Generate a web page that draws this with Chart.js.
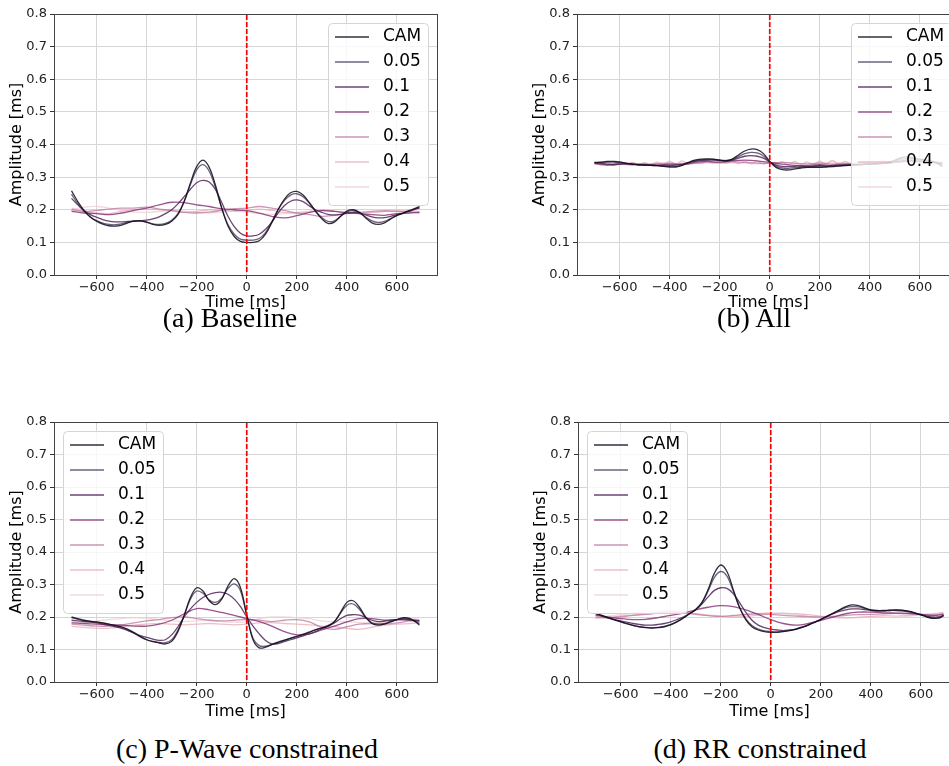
<!DOCTYPE html>
<html>
<head>
<meta charset="utf-8">
<script src="https://cdn.jsdelivr.net/npm/chart.js@4.4.0/dist/chart.umd.min.js"></script>
<style>
body{margin:0;width:949px;height:766px;overflow:hidden;background:#fff;position:relative}
canvas{position:absolute}
.cap{position:absolute;font-family:"Liberation Serif",serif;font-size:28px;color:#000;white-space:nowrap;transform:translate(-50%,-50%)}
</style>
</head>
<body>
<canvas id="pa" width="445" height="311" style="left:0px;top:0px"></canvas>
<canvas id="pb" width="445" height="311" style="left:523px;top:0px"></canvas>
<canvas id="pc" width="445" height="312" style="left:0px;top:408px"></canvas>
<canvas id="pd" width="445" height="312" style="left:524px;top:408px"></canvas>
<div class="cap" style="left:230px;top:318px">(a) Baseline</div>
<div class="cap" style="left:754px;top:318px">(b) All</div>
<div class="cap" style="left:247px;top:749px">(c) P-Wave constrained</div>
<div class="cap" style="left:760px;top:749px">(d) RR constrained</div>
<script>
// time grids (ms)
const tFine = [-700,-675,-650,-625,-600,-575,-550,-525,-500,-475,
  -450,-425,-400,-375,-350,-325,-300,-275,-250,-225,
  -200,-175,-150,-125,-100,-75,-50,-25,0,25,
  50,75,100,125,150,175,200,225,250,275,
  300,325,350,375,400,425,450,475,500,525,
  550,575,600,625,650,675,690];
const tCoarse = [-700,-650,-600,-550,-500,-450,-400,-350,-300,-250,
  -200,-150,-100,-50,0,50,100,150,200,250,
  300,350,400,450,500,550,600,650,690];

const labels = ['CAM','0.05','0.1','0.2','0.3','0.4','0.5'];
const colors = ['rgba(15,10,25,0.85)','rgba(60,45,80,0.75)','rgba(80,35,90,0.85)',
  'rgba(135,55,120,0.85)','rgba(190,125,165,0.8)','rgba(228,172,182,0.75)','rgba(238,205,205,0.75)'];

// (a) Baseline
const baseCam = [0.258,0.225,0.198,0.178,0.165,0.156,0.151,0.150,0.153,0.160,
  0.165,0.166,0.162,0.155,0.152,0.155,0.165,0.185,0.225,0.282,
  0.332,0.352,0.330,0.275,0.205,0.150,0.118,0.103,0.100,0.100,
  0.105,0.125,0.160,0.200,0.232,0.252,0.256,0.245,0.222,0.195,
  0.172,0.158,0.162,0.180,0.196,0.200,0.192,0.175,0.160,0.155,
  0.160,0.172,0.183,0.190,0.198,0.205,0.210];
const base005 = [0.248,0.218,0.195,0.178,0.167,0.159,0.155,0.154,0.157,0.162,
  0.166,0.166,0.162,0.157,0.155,0.158,0.168,0.188,0.225,0.277,
  0.322,0.338,0.318,0.268,0.205,0.155,0.125,0.110,0.107,0.107,
  0.112,0.130,0.163,0.200,0.228,0.245,0.249,0.240,0.220,0.196,
  0.176,0.164,0.166,0.180,0.193,0.197,0.191,0.178,0.166,0.161,
  0.164,0.173,0.182,0.189,0.196,0.203,0.207];
const base01 = [0.235,0.215,0.198,0.185,0.177,0.170,0.165,0.163,0.163,0.164,
  0.165,0.166,0.168,0.172,0.178,0.188,0.200,0.218,0.240,0.263,
  0.283,0.290,0.285,0.262,0.222,0.180,0.148,0.128,0.120,0.120,
  0.125,0.140,0.162,0.190,0.212,0.226,0.230,0.225,0.212,0.200,
  0.192,0.186,0.184,0.186,0.190,0.192,0.190,0.184,0.178,0.175,
  0.176,0.180,0.185,0.190,0.196,0.202,0.205];
const base02 = [0.195,0.190,0.188,0.185,0.190,0.198,0.205,0.215,0.223,0.222,
  0.215,0.210,0.203,0.200,0.197,0.190,0.180,0.175,0.182,0.192,
  0.198,0.195,0.190,0.188,0.185,0.183,0.188,0.190,0.192];
const base03 = [0.200,0.195,0.198,0.202,0.205,0.205,0.208,0.202,0.198,0.192,
  0.190,0.193,0.198,0.203,0.205,0.210,0.205,0.198,0.190,0.185,
  0.180,0.183,0.188,0.192,0.195,0.197,0.195,0.193,0.190];
const base04 = [0.205,0.195,0.190,0.188,0.195,0.200,0.202,0.200,0.196,0.192,
  0.195,0.200,0.198,0.196,0.198,0.202,0.198,0.192,0.190,0.193,
  0.196,0.195,0.192,0.190,0.192,0.195,0.197,0.196,0.195];
const base05 = [0.200,0.208,0.210,0.205,0.198,0.193,0.192,0.195,0.198,0.196,
  0.192,0.190,0.193,0.196,0.193,0.188,0.186,0.188,0.192,0.196,
  0.198,0.196,0.193,0.190,0.192,0.194,0.195,0.194,0.193];

// (b) All
const allCam = [0.345,0.346,0.348,0.348,0.347,0.343,0.340,0.338,0.337,0.336,
  0.335,0.333,0.331,0.331,0.336,0.345,0.352,0.355,0.356,0.355,
  0.352,0.350,0.355,0.368,0.380,0.386,0.384,0.372,0.348,0.330,
  0.323,0.322,0.325,0.328,0.330,0.330,0.330,0.331,0.332,0.334,
  0.335,0.337,0.338,0.339,0.340,0.341,0.342,0.345,0.352,0.360,
  0.362,0.358,0.355,0.352,0.348,0.340,0.332];
const all005 = [0.344,0.345,0.346,0.346,0.345,0.342,0.340,0.338,0.337,0.336,
  0.335,0.334,0.333,0.333,0.337,0.344,0.350,0.353,0.354,0.354,
  0.352,0.351,0.354,0.363,0.372,0.376,0.374,0.365,0.346,0.333,
  0.328,0.327,0.329,0.331,0.332,0.332,0.332,0.333,0.334,0.335,
  0.336,0.337,0.338,0.339,0.340,0.341,0.342,0.344,0.349,0.355,
  0.357,0.355,0.352,0.350,0.347,0.341,0.336];
const all01 = [0.343,0.342,0.340,0.338,0.340,0.342,0.340,0.338,0.337,0.337,
  0.336,0.336,0.336,0.337,0.340,0.344,0.348,0.351,0.352,0.352,
  0.351,0.350,0.352,0.358,0.364,0.366,0.364,0.358,0.346,0.337,
  0.333,0.332,0.333,0.334,0.332,0.334,0.336,0.334,0.336,0.337,
  0.337,0.338,0.339,0.339,0.340,0.341,0.342,0.343,0.346,0.350,
  0.352,0.351,0.349,0.348,0.346,0.343,0.340];
const all02 = [0.342,0.338,0.341,0.338,0.340,0.337,0.340,0.338,0.345,0.348,
  0.346,0.350,0.352,0.350,0.345,0.340,0.336,0.335,0.338,0.336,
  0.339,0.338,0.340,0.342,0.345,0.348,0.347,0.345,0.343];
const all03 = [0.341,0.336,0.339,0.342,0.338,0.341,0.343,0.340,0.342,0.346,
  0.344,0.347,0.345,0.343,0.342,0.345,0.342,0.340,0.343,0.340,
  0.342,0.341,0.343,0.344,0.346,0.349,0.348,0.346,0.344];
const all04 = [0.344,0.338,0.345,0.337,0.344,0.338,0.345,0.339,0.344,0.338,
  0.346,0.339,0.349,0.340,0.350,0.341,0.349,0.342,0.350,0.343,
  0.351,0.342,0.350,0.341,0.349,0.341,0.348,0.340,0.346,0.339,
  0.347,0.338,0.348,0.339,0.347,0.338,0.349,0.340,0.351,0.340,
  0.348,0.341,0.347,0.342,0.348,0.343,0.349,0.344,0.350,0.345,
  0.351,0.345,0.350,0.344,0.349,0.343,0.346];
const all05 = [0.345,0.343,0.341,0.343,0.340,0.342,0.341,0.343,0.345,0.343,
  0.342,0.344,0.343,0.341,0.344,0.346,0.343,0.341,0.344,0.346,
  0.343,0.342,0.344,0.346,0.348,0.350,0.349,0.347,0.345];

// (c) P-Wave constrained
const pwCam = [0.200,0.195,0.190,0.187,0.185,0.182,0.178,0.174,0.170,0.162,
  0.152,0.140,0.130,0.124,0.120,0.117,0.125,0.155,0.205,0.260,
  0.290,0.280,0.250,0.238,0.255,0.295,0.318,0.290,0.205,0.130,
  0.105,0.107,0.115,0.122,0.128,0.134,0.140,0.146,0.153,0.160,
  0.166,0.172,0.185,0.215,0.245,0.250,0.230,0.200,0.180,0.175,
  0.178,0.185,0.192,0.198,0.196,0.185,0.175];
const pw005 = [0.198,0.193,0.189,0.186,0.184,0.181,0.177,0.173,0.168,0.160,
  0.150,0.139,0.130,0.125,0.122,0.121,0.130,0.160,0.205,0.255,
  0.280,0.273,0.252,0.245,0.258,0.288,0.302,0.280,0.205,0.135,
  0.112,0.110,0.116,0.123,0.129,0.135,0.141,0.147,0.154,0.161,
  0.167,0.174,0.186,0.212,0.236,0.240,0.224,0.198,0.182,0.178,
  0.180,0.186,0.192,0.196,0.194,0.186,0.180];
const pw01 = [0.190,0.188,0.186,0.184,0.182,0.178,0.174,0.170,0.165,0.158,
  0.150,0.143,0.137,0.132,0.128,0.130,0.145,0.170,0.200,0.225,
  0.245,0.260,0.270,0.275,0.276,0.270,0.255,0.232,0.200,0.172,
  0.148,0.128,0.117,0.118,0.124,0.130,0.136,0.142,0.148,0.155,
  0.163,0.172,0.182,0.195,0.205,0.207,0.206,0.198,0.190,0.186,
  0.187,0.190,0.192,0.193,0.192,0.190,0.188];
const pw02 = [0.182,0.180,0.178,0.176,0.175,0.172,0.172,0.178,0.190,0.210,
  0.226,0.222,0.214,0.205,0.195,0.186,0.172,0.155,0.145,0.148,
  0.160,0.172,0.185,0.195,0.195,0.190,0.192,0.190,0.187];
const pw03 = [0.178,0.175,0.172,0.172,0.176,0.182,0.188,0.192,0.198,0.200,
  0.195,0.190,0.188,0.190,0.192,0.190,0.186,0.190,0.192,0.185,
  0.168,0.162,0.170,0.178,0.180,0.178,0.182,0.188,0.192];
const pw04 = [0.172,0.168,0.165,0.166,0.170,0.175,0.178,0.180,0.178,0.176,
  0.178,0.180,0.178,0.176,0.178,0.182,0.183,0.180,0.178,0.176,
  0.172,0.170,0.165,0.162,0.168,0.175,0.178,0.180,0.182];
const pw05 = [0.185,0.182,0.188,0.192,0.195,0.198,0.196,0.192,0.188,0.186,
  0.188,0.190,0.186,0.184,0.185,0.195,0.200,0.200,0.198,0.195,
  0.188,0.185,0.186,0.183,0.182,0.186,0.192,0.196,0.198];

// (d) RR constrained
const rrCam = [0.212,0.205,0.198,0.192,0.186,0.180,0.174,0.170,0.167,0.166,
  0.167,0.170,0.176,0.185,0.196,0.210,0.223,0.245,0.285,0.335,
  0.360,0.340,0.285,0.230,0.192,0.170,0.160,0.155,0.153,0.153,
  0.155,0.158,0.162,0.168,0.175,0.183,0.192,0.202,0.212,0.222,
  0.232,0.237,0.235,0.228,0.222,0.220,0.220,0.221,0.222,0.221,
  0.218,0.213,0.207,0.200,0.196,0.197,0.205];
const rr005 = [0.210,0.204,0.197,0.191,0.185,0.179,0.174,0.170,0.168,0.167,
  0.168,0.171,0.177,0.186,0.197,0.210,0.222,0.243,0.280,0.322,
  0.340,0.326,0.280,0.230,0.195,0.174,0.163,0.157,0.155,0.154,
  0.156,0.159,0.163,0.169,0.176,0.184,0.193,0.203,0.212,0.221,
  0.229,0.232,0.231,0.226,0.221,0.219,0.219,0.220,0.221,0.220,
  0.217,0.212,0.206,0.200,0.197,0.198,0.204];
const rr01 = [0.210,0.203,0.197,0.192,0.188,0.184,0.180,0.177,0.175,0.175,
  0.177,0.180,0.185,0.192,0.200,0.210,0.222,0.240,0.262,0.282,
  0.290,0.288,0.272,0.245,0.215,0.190,0.175,0.167,0.163,0.160,
  0.158,0.160,0.163,0.169,0.176,0.184,0.193,0.202,0.210,0.217,
  0.222,0.225,0.225,0.223,0.220,0.219,0.219,0.220,0.220,0.219,
  0.216,0.212,0.207,0.203,0.200,0.201,0.205];
const rr02 = [0.205,0.200,0.195,0.192,0.193,0.198,0.205,0.212,0.222,0.230,
  0.235,0.232,0.222,0.208,0.192,0.180,0.175,0.180,0.190,0.200,
  0.210,0.215,0.215,0.213,0.212,0.211,0.208,0.205,0.208];
const rr03 = [0.200,0.198,0.200,0.205,0.208,0.212,0.215,0.212,0.208,0.204,
  0.202,0.205,0.208,0.210,0.208,0.205,0.203,0.201,0.200,0.202,
  0.205,0.207,0.208,0.210,0.211,0.210,0.208,0.206,0.210];
const rr04 = [0.196,0.198,0.203,0.206,0.210,0.215,0.217,0.214,0.210,0.206,
  0.203,0.200,0.202,0.206,0.210,0.212,0.210,0.207,0.203,0.200,
  0.198,0.199,0.202,0.204,0.203,0.205,0.208,0.210,0.214];
const rr05 = [0.198,0.203,0.207,0.212,0.215,0.218,0.220,0.216,0.210,0.205,
  0.202,0.203,0.207,0.211,0.213,0.210,0.206,0.203,0.200,0.198,
  0.197,0.199,0.201,0.200,0.198,0.202,0.206,0.208,0.211];

const xTicks = [-600,-400,-200,0,200,400,600];

function pts(xs, ys){ return xs.map((x,i)=>({x:x, y:ys[i]})); }

// axes frame + red dashed line at t = 0, drawn once everything else is on the canvas
const frame = {
  id:'frame',
  afterDraw(chart){
    const {ctx, chartArea:ca, scales} = chart;
    const x0 = scales.x.getPixelForValue(0);
    ctx.save();
    ctx.strokeStyle = '#444';
    ctx.lineWidth = 1;
    ctx.strokeRect(Math.round(ca.left)+0.5, Math.round(ca.top)+0.5,
      Math.round(ca.right-ca.left), Math.round(ca.bottom-ca.top));
    ctx.strokeStyle = '#ff0000';
    ctx.lineWidth = 1.7;
    ctx.setLineDash([5,2]);
    ctx.beginPath(); ctx.moveTo(x0, ca.top + 1); ctx.lineTo(x0, ca.bottom - 1); ctx.stroke();
    ctx.restore();
  }
};

const innerLegend = {
  id:'innerLegend',
  afterDatasetsDraw(chart, args, opts){
    const {ctx, chartArea:ca} = chart;
    const w = 100, h = 182, rowH = 25;
    const x0 = opts.side === 'left' ? ca.left + 9 : ca.right - 9 - w;
    const y0 = ca.top + 9;
    ctx.save();
    ctx.beginPath();
    ctx.roundRect(x0 + 0.5, y0 + 0.5, w, h, 4);
    ctx.fillStyle = 'rgba(255,255,255,0.8)';
    ctx.fill();
    ctx.strokeStyle = '#d4d4d4';
    ctx.lineWidth = 1;
    ctx.stroke();
    ctx.font = '17px "DejaVu Sans"';
    ctx.textBaseline = 'middle';
    chart.data.datasets.forEach((ds, i) => {
      const y = y0 + 14 + i * rowH;
      ctx.strokeStyle = ds.borderColor;
      ctx.lineWidth = 1.6;
      ctx.beginPath(); ctx.moveTo(x0 + 7, y); ctx.lineTo(x0 + 41, y); ctx.stroke();
      ctx.fillStyle = '#000';
      ctx.fillText(ds.label, x0 + 55, y);
    });
    ctx.restore();
  }
};

function makePanel(id, series, side, leftW, padRight, bottomH){
  const grids = series.map(s => s.length === tFine.length ? tFine : tCoarse);
  new Chart(document.getElementById(id), {
    type:'line',
    data:{
      datasets: series.map((s,i)=>({
        label: labels[i],
        data: pts(grids[i], s),
        borderColor: colors[i],
        borderWidth: 1.3,
        pointRadius: 0,
        tension: 0.35,
        fill: false
      }))
    },
    options:{
      responsive:false,
      animation:false,
      devicePixelRatio:1,
      layout:{padding:{left:0, top:14, right:padRight, bottom:0}},
      plugins:{legend:{display:false}, tooltip:{enabled:false}, innerLegend:{side:side}},
      scales:{
        x:{
          type:'linear', min:-770, max:760,
          afterBuildTicks: s => { s.ticks = xTicks.map(v=>({value:v})); },
          afterFit: s => { s.height = bottomH; },
          grid:{color:'#d6d6d6', tickColor:'#333', tickLength:4},
          border:{display:false},
          ticks:{padding:1, maxRotation:0, color:'#222', font:{family:'DejaVu Sans', size:13},
            callback: v => String(v).replace('-', '\u2212')},
          title:{display:true, text:'Time [ms]', color:'#000', padding:0,
            font:{family:'DejaVu Sans', size:16, lineHeight:1}}
        },
        y:{
          min:0, max:0.8,
          afterBuildTicks: s => { s.ticks = [0,0.1,0.2,0.3,0.4,0.5,0.6,0.7,0.8].map(v=>({value:v})); },
          afterFit: s => { s.width = leftW; },
          grid:{color:'#d6d6d6', tickColor:'#333', tickLength:4},
          border:{display:false},
          ticks:{padding:3, color:'#222', font:{family:'DejaVu Sans', size:13},
            callback: v => v.toFixed(1)},
          title:{display:true, text:'Amplitude [ms]', color:'#000', padding:{top:9, bottom:0},
            font:{family:'DejaVu Sans', size:16, lineHeight:1}}
        }
      }
    },
    plugins:[innerLegend, frame]
  });
}

makePanel('pa', [baseCam, base005, base01, base02, base03, base04, base05], 'right', 54, 8, 36);
makePanel('pb', [allCam, all005, all01, all02, all03, all04, all05], 'right', 54, 8, 36);
makePanel('pc', [pwCam, pw005, pw01, pw02, pw03, pw04, pw05], 'left', 54, 8, 38);
makePanel('pd', [rrCam, rr005, rr01, rr02, rr03, rr04, rr05], 'left', 54, 8, 38);
</script>
</body>
</html>
